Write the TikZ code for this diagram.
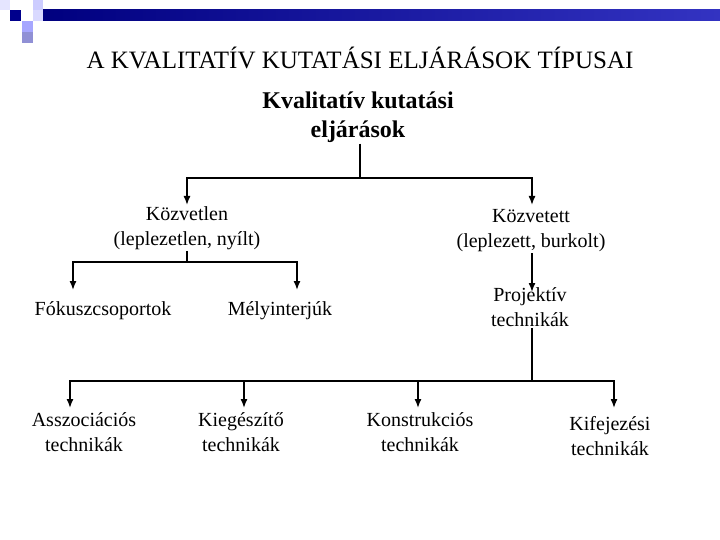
\documentclass[tikz,border=0pt]{standalone}
\usepackage{fontspec}
\setmainfont{Liberation Serif}
\usetikzlibrary{arrows.meta}
\begin{document}
\begin{tikzpicture}[x=1pt,y=-1pt,
  lbl/.style={align=center,font=\fontsize{20}{25}\selectfont,inner sep=1pt},
  conn/.style={line width=1.4pt},
  arr/.style={line width=1.4pt,-{Latex[length=9pt,width=7pt]}}]
\useasboundingbox (0,0) rectangle (720,540);
\fill[white] (0,0) rectangle (720,540);
% decoration
\shade[left color=blue!50!black, right color=blue!70!black!80] (43,10) rectangle (720,21);
\fill[blue!55!black] (10,10) rectangle (21,21);
\fill[blue!20] (33,0) rectangle (43,10);
\fill[blue!15] (33,10) rectangle (43,21);
\fill[blue!35] (22,21) rectangle (33,32);
\fill[blue!45!gray!60] (22,32) rectangle (33,43);
\fill[blue!10] (0,0) rectangle (10,10);
\node[lbl,font=\fontsize{25}{28}\selectfont] (title) at (360,58) {A KVALITATÍV KUTATÁSI ELJÁRÁSOK TÍPUSAI};
\node[lbl,font=\bfseries\fontsize{24}{29}\selectfont] (root) at (358,117) {Kvalitatív kutatási\\eljárások};
\node[lbl] (kozv) at (187,228) {Közvetlen\\(leplezetlen, nyílt)};
\node[lbl] (kozt) at (531,231) {Közvetett\\(leplezett, burkolt)};
\node[lbl] (fok) at (103,311) {Fókuszcsoportok};
\node[lbl] (mely) at (280,311) {Mélyinterjúk};
\node[lbl] (proj) at (530,307) {Projektív\\technikák};
\node[lbl] (assz) at (84,432) {Asszociációs\\technikák};
\node[lbl] (kieg) at (241,432) {Kiegészítő\\technikák};
\node[lbl] (kons) at (420,432) {Konstrukciós\\technikák};
\node[lbl] (kif) at (610,436) {Kifejezési\\technikák};
\coordinate (j1) at (360,178);
\coordinate (j2) at (187,262);
\coordinate (j3) at (532,381);
\draw[conn] (root.south -| j1) -- (j1);
\draw[arr] (j1) -- (187,178) -- (187,205);
\draw[arr] (j1) -- (532,178) -- (532,205);
\draw[conn] (kozv.south) -- (j2);
\draw[arr] (j2) -- (73,262) -- (73,290);
\draw[arr] (j2) -- (297,262) -- (297,290);
\draw[arr] (kozt.south -| j3) -- (532,292);
\draw[conn] (proj.south -| j3) -- (j3);
\draw[arr] (j3) -- (70,381) -- (70,408);
\draw[arr] (j3) -- (614,381) -- (614,408);
\draw[arr] (244,381) -- (244,408);
\draw[arr] (418,381) -- (418,408);
\end{tikzpicture}
\end{document}
